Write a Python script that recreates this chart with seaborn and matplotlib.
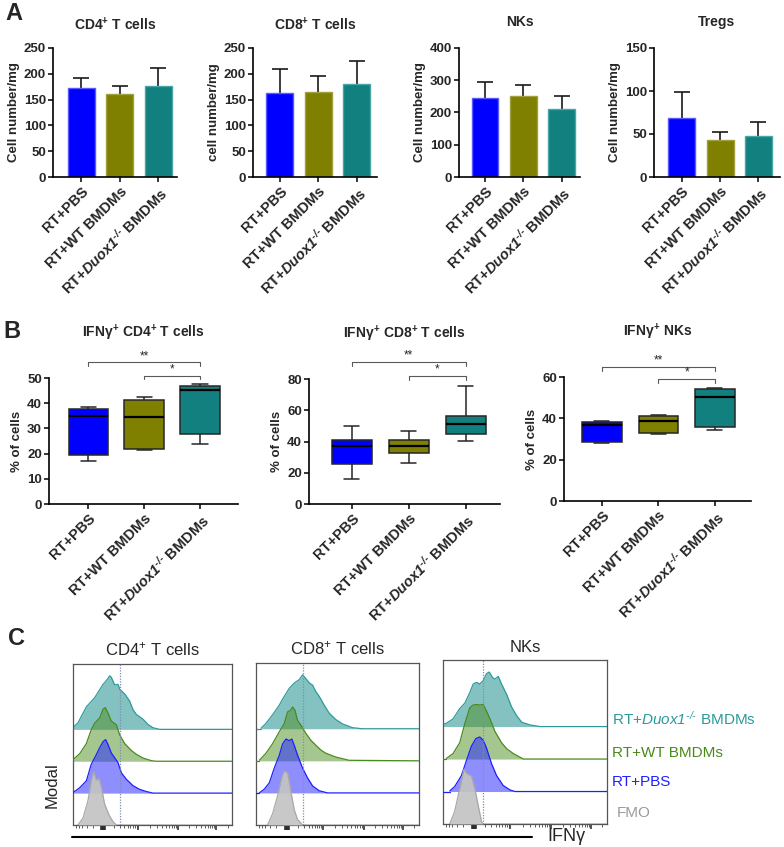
import numpy as np
import pandas as pd
import matplotlib
matplotlib.use("Agg")
import matplotlib.pyplot as plt
from matplotlib.lines import Line2D
import seaborn as sns

# ---------------- data ----------------
groups = ["RT+PBS", "RT+WT BMDMs", "RT+Duox1-/- BMDMs"]
group_colors = ["#0000FF", "#7F7F00", "#138080"]
bar_edges = ["#5a5aff", "#a0a040", "#4aa6a6"]

# Panel A: mean and SD (cells / mg)
cd4_mean = [172, 160, 176]
cd4_sd = [19, 16, 36]
cd8_mean = [163, 165, 181]
cd8_sd = [47, 31, 43]
nk_mean = [244, 251, 210]
nk_sd = [51, 35, 41]
treg_mean = [69, 43, 47.7]
treg_sd = [29.5, 9.7, 16.3]
a_titles = [r"CD4$^{\mathbf{+}}$ T cells", r"CD8$^{\mathbf{+}}$ T cells", "NKs", "Tregs"]
a_ylabels = ["Cell number/mg", "cell number/mg", "Cell number/mg", "Cell number/mg"]
a_yticks = [[0, 50, 100, 150, 200, 250], [0, 50, 100, 150, 200, 250],
            [0, 100, 200, 300, 400], [0, 50, 100, 150]]

# Panel B: five-number summaries (min, Q1, median, Q3, max), % of cells
ifn_cd4 = [[16.9, 19.6, 34.9, 37.8, 38.6], [21.3, 21.7, 34.4, 41.4, 42.3], [23.9, 27.6, 45.2, 46.9, 47.6]]
ifn_cd8 = [[16.3, 25.7, 37.2, 41.0, 49.9], [26.3, 32.5, 37.2, 41.2, 46.7], [40.1, 45.0, 51.0, 56.3, 75.8]]
ifn_nk = [[28.1, 28.5, 36.6, 38.4, 38.7], [32.2, 33.1, 38.5, 41.3, 41.6], [34.5, 36.0, 50.2, 54.0, 54.8]]
b_titles = [r"IFNγ$^{\mathbf{+}}$ CD4$^{\mathbf{+}}$ T cells", r"IFNγ$^{\mathbf{+}}$ CD8$^{\mathbf{+}}$ T cells",
            r"IFNγ$^{\mathbf{+}}$ NKs"]
b_yticks = [[0, 10, 20, 30, 40, 50], [0, 20, 40, 60, 80], [0, 20, 40, 60]]
# significance brackets: (group a, group b, level, label)
b_sig = [[(0, 2, 56.2, "**"), (1, 2, 50.9, "*")],
         [(0, 2, 90.7, "**"), (1, 2, 81.7, "*")],
         [(0, 2, 64.8, "**"), (1, 2, 58.9, "*")]]

# Panel C: modal histograms, x = % of IFNγ axis, h = % of mode
c1_duox_x = [0, 3.1, 8.4, 13.6, 18.9, 21.0, 23.1, 24.1, 26.2, 28.3, 29.4, 32.5, 35.6, 37.7, 39.8, 44.0, 47.2, 50.3, 54.5]
c1_duox_h = [4, 12, 42, 59, 84, 91, 100, 97, 83, 84, 75, 66, 53, 37, 28, 19, 9, 3, 0]
c1_wt_x = [0, 4.2, 8.4, 11.5, 13.6, 16.8, 18.9, 20.3, 22.0, 24.1, 27.3, 29.4, 32.5, 36.7, 39.8, 44.0, 49.3, 52.4]
c1_wt_h = [3, 14, 33, 59, 71, 81, 97, 100, 90, 75, 68, 49, 33, 20, 13, 6, 1, 0]
c1_pbs_x = [0, 4.2, 8.4, 11.5, 14.7, 16.8, 18.9, 20.5, 22.0, 24.1, 26.2, 28.3, 30.4, 33.5, 37.7, 41.9, 46.1, 50.3]
c1_pbs_h = [1, 10, 23, 54, 72, 85, 96, 100, 91, 75, 66, 57, 38, 26, 14, 7, 3, 0]
c1_fmo_x = [3.1, 6.3, 9.4, 11.5, 13.0, 14.7, 16.4, 17.8, 19.9, 22.6, 25.2, 27.3]
c1_fmo_h = [0, 13, 45, 84, 100, 84, 87, 71, 39, 19, 6, 0]

c2_duox_x = [3.1, 6.1, 10.2, 14.3, 17.3, 20.4, 23.5, 26.5, 28.6, 30.6, 32.7, 34.7, 36.7, 38.8, 41.8, 44.9, 49.0, 53.1, 59.2, 65.3]
c2_duox_h = [1, 10, 26, 44, 60, 75, 85, 91, 100, 93, 85, 81, 69, 60, 44, 29, 17, 9, 2, 0]
c2_wt_x = [2.0, 6.1, 10.2, 14.3, 17.3, 19.4, 21.4, 22.4, 23.9, 25.5, 27.6, 30.6, 33.7, 36.7, 39.8, 42.9, 49.0, 57.1]
c2_wt_h = [1, 14, 32, 54, 69, 91, 94, 100, 94, 75, 66, 51, 38, 29, 20, 14, 7, 1]
c2_pbs_x = [2.0, 5.1, 8.2, 11.2, 14.3, 16.3, 18.4, 20.4, 22.0, 23.5, 25.5, 28.6, 31.6, 34.7, 38.8, 43.9]
c2_pbs_h = [0, 7, 19, 46, 70, 91, 100, 97, 100, 88, 70, 46, 28, 13, 4, 0]
c2_fmo_x = [7.1, 10.2, 13.3, 15.9, 17.3, 19.4, 21.4, 23.5, 25.5, 28.6]
c2_fmo_h = [0, 21, 55, 90, 100, 97, 62, 28, 10, 0]

c3_duox_x = [0, 2.0, 6.1, 10.2, 13.3, 16.3, 18.4, 20.4, 22.4, 24.5, 26.5, 28.2, 30.2, 31.6, 33.7, 35.7, 38.8, 41.8, 44.9, 48.0, 53.1, 59.2]
c3_duox_h = [4, 6, 14, 33, 43, 62, 78, 81, 78, 84, 97, 100, 90, 87, 92, 78, 59, 36, 20, 8, 3, 0]
c3_wt_x = [2.0, 6.1, 10.2, 13.3, 16.3, 18.4, 20.4, 22.4, 24.5, 26.5, 28.6, 31.6, 35.7, 38.8, 42.9, 49.0]
c3_wt_h = [1, 10, 30, 65, 94, 99, 100, 99, 100, 88, 74, 51, 30, 19, 10, 0]
c3_pbs_x = [4.1, 7.1, 11.2, 14.3, 17.3, 20.0, 22.4, 24.5, 26.5, 29.6, 32.7, 36.7, 40.8, 43.9]
c3_pbs_h = [1, 9, 29, 57, 83, 97, 100, 94, 80, 51, 29, 11, 3, 0]
c3_fmo_x = [4.1, 7.1, 10.2, 12.7, 14.7, 17.3, 19.4, 21.4, 23.5, 24.5]
c3_fmo_h = [0, 23, 65, 100, 92, 88, 65, 35, 4, 0]

c_titles = [r"CD4$^{\mathsf{+}}$ T cells", r"CD8$^{\mathsf{+}}$ T cells", "NKs"]
c_gate = [29.4, 29.0, 24.1]
c_legend = ["RT+$\\mathcal{Duox1}^{\\mathcal{\u2010/\u2010}}$ BMDMs", "RT+WT BMDMs", "RT+PBS", "FMO"]

# ---------------- style ----------------
sns.set_theme(style="ticks")
plt.rcParams["font.family"] = ["Liberation Sans", "DejaVu Sans"]
plt.rcParams["mathtext.fontset"] = "custom"
plt.rcParams["mathtext.rm"] = "Liberation Sans:bold"
plt.rcParams["mathtext.bf"] = "Liberation Sans:bold"
plt.rcParams["mathtext.it"] = "Liberation Sans:italic:bold"
plt.rcParams["mathtext.cal"] = "Liberation Sans:italic"
plt.rcParams["mathtext.sf"] = "Liberation Sans"
try:
    plt.rcParams["mathtext.bfit"] = "Liberation Sans:italic:bold"
    DUOX = "RT+$\\mathbfit{Duox1}^{\\mathbfit{\u2010/\u2010}}$ BMDMs"
except KeyError:
    DUOX = "RT+$\\mathit{Duox1}^{\\mathit{\u2010/\u2010}}$ BMDMs"
xtick_labels = [groups[0], groups[1], DUOX]

W, H = 784, 847
fig = plt.figure(figsize=(W / 100, H / 100), dpi=100)


def rect(l, t, r, b):
    return [l / W, 1 - b / H, (r - l) / W, (b - t) / H]


def style_axis(ax, yticks, ylabel):
    sns.despine(ax=ax)
    for s in ("left", "bottom"):
        ax.spines[s].set_linewidth(1.2)
        ax.spines[s].set_color("black")
    ax.set_yticks(yticks)
    ax.set_ylim(yticks[0], yticks[-1])
    ax.set_xticks([0, 1, 2])
    ax.set_xticklabels(xtick_labels, rotation=45, ha="right", rotation_mode="anchor",
                       fontsize=10.5, fontweight="bold")
    ax.tick_params(axis="both", direction="out", length=3.6, width=1.1, color="black", pad=1.5)
    for lab in ax.get_yticklabels():
        lab.set_fontweight("bold")
        lab.set_fontsize(9.5)
    ax.set_xlabel("")
    ax.set_ylabel(ylabel, fontsize=9.5, fontweight="bold", labelpad=3)


# ---------------- panel A ----------------
a_rects = [(53, 48, 177, 177), (253, 48, 377, 177), (459, 48, 580, 177), (654, 48, 780, 177)]
a_xlims = [(-0.73, 2.49), (-0.70, 2.52), (-0.68, 2.48), (-0.72, 2.56)]
a_pads = [13, 13, 16, 16]
a_means = [cd4_mean, cd8_mean, nk_mean, treg_mean]
a_sds = [cd4_sd, cd8_sd, nk_sd, treg_sd]
for i in range(4):
    ax = fig.add_axes(rect(*a_rects[i]))
    df = pd.DataFrame({"group": groups, "value": a_means[i]})
    sns.barplot(data=df, x="group", y="value", hue="group", order=groups, hue_order=groups,
                palette=group_colors, saturation=1, width=0.7, errorbar=None, legend=False, ax=ax,
                linewidth=1.0, zorder=2)
    for p, ec in zip(ax.patches, bar_edges):
        p.set_edgecolor(ec)
    eb = ax.errorbar([0, 1, 2], a_means[i], yerr=[np.zeros(3), a_sds[i]], fmt="none",
                     ecolor="#1a1a1a", elinewidth=1.2, capsize=6, capthick=1.2, zorder=1)
    eb.lines[1][0].set_visible(False)
    style_axis(ax, a_yticks[i], a_ylabels[i])
    ax.set_xlim(*a_xlims[i])
    ax.set_title(a_titles[i], fontsize=10, fontweight="bold", pad=a_pads[i])

# ---------------- panel B ----------------
b_rects = [(49, 378, 238, 504), (309, 379, 500, 504), (564, 377, 751, 501)]
b_xlims = [(-0.7, 2.68), (-0.75, 2.6), (-0.67, 2.64)]
b_data = [ifn_cd4, ifn_cd8, ifn_nk]
for i in range(3):
    ax = fig.add_axes(rect(*b_rects[i]))
    long = pd.DataFrame({"group": np.repeat(groups, 5),
                         "value": np.concatenate([np.asarray(v) for v in b_data[i]])})
    sns.boxplot(data=long, x="group", y="value", hue="group", order=groups, hue_order=groups,
                palette=group_colors, width=0.7, whis=(0, 100), linewidth=1.1, linecolor="#262626",
                fliersize=0, legend=False, ax=ax, capwidths=0.27, saturation=1,
                medianprops=dict(color="black", linewidth=1.6))
    style_axis(ax, b_yticks[i], "% of cells")
    ax.set_xlim(*b_xlims[i])
    ax.set_title(b_titles[i], fontsize=10, fontweight="bold", pad=29)
    ymax = b_yticks[i][-1]
    drop = ymax * 3.5 / (b_rects[i][3] - b_rects[i][1])
    for (g0, g1, lev, lab) in b_sig[i]:
        ax.plot([g0, g0, g1, g1], [lev - drop, lev, lev, lev - drop], color="#5a5a5a", lw=0.8,
                clip_on=False)
        ax.annotate(lab, xy=((g0 + g1) / 2, lev), xytext=(0, 0.3), textcoords="offset points",
                    ha="center", va="bottom", fontsize=8.5, annotation_clip=False)

# ---------------- panel C ----------------
c_rects = [(73, 664, 232, 825), (256, 663, 419, 825), (443, 660, 607, 824)]
c_curves = [
    [(c1_duox_x, c1_duox_h), (c1_wt_x, c1_wt_h), (c1_pbs_x, c1_pbs_h), (c1_fmo_x, c1_fmo_h)],
    [(c2_duox_x, c2_duox_h), (c2_wt_x, c2_wt_h), (c2_pbs_x, c2_pbs_h), (c2_fmo_x, c2_fmo_h)],
    [(c3_duox_x, c3_duox_h), (c3_wt_x, c3_wt_h), (c3_pbs_x, c3_pbs_h), (c3_fmo_x, c3_fmo_h)],
]
lane_style = [  # offset, fill, line, alpha
    (3, "#2b9494", "#2f9a9a", 0.58),
    (2, "#4e8f22", "#4a8a1c", 0.50),
    (1, "#2626ff", "#1f1fff", 0.52),
    (0, "#c4c4c4", "#a8a8a8", 0.92),
]
PEAK = 1.68
major = [19, 41, 66, 90]
minor = []
for a, b in zip([19, 41, 66, 90], [41, 66, 90, 114]):
    minor += [a + (b - a) * np.log10(k) for k in range(2, 10)]
minor += [19 - 22 * np.log10(k) for k in range(2, 10)]
minor = [m for m in minor if 0.5 < m < 99.5]
for i in range(3):
    ax = fig.add_axes(rect(*c_rects[i]))
    for j, ((xs, hs), (off, fc, lc, al)) in enumerate(zip(c_curves[i], lane_style)):
        x = np.r_[xs, 100.0]
        y = off + np.r_[hs, 0.0] / 100.0 * PEAK
        z = 2 + j
        ax.fill_between(x, off, y, color=fc, alpha=al, lw=0, zorder=z)
        ax.plot(x, y, color=lc, lw=0.9, zorder=z + 0.5)
        ax.plot([0, x[0]], [off, off], color=lc, lw=0.9, zorder=z + 0.5)
    ax.axvline(c_gate[i], color="#7d8db0", lw=0.9, ls=(0, (1, 1.2)), zorder=20)
    ax.set_xlim(0, 100)
    ax.set_ylim(0, 5.05)
    for s in ax.spines.values():
        s.set_visible(True)
        s.set_color("#555555")
        s.set_linewidth(0.9)
    ax.set_yticks([])
    ax.set_xticks(major + [17.6, 18.3, 19.7, 20.4])
    ax.set_xticks(minor, minor=True)
    ax.set_xticklabels([])
    ax.tick_params(axis="x", which="major", direction="out", length=3.5, width=1.1, color="#222")
    ax.tick_params(axis="x", which="minor", direction="out", length=2, width=0.6, color="#444")
    ax.set_title(c_titles[i], fontsize=12, pad=6)

lane_text_y = [719, 753, 782, 813]
lane_text_col = ["#2a9a9a", "#4a8a1a", "#2020ff", "#9a9a9a"]
lane_text_x = [612, 612, 612, 617]
for t, yy, col, xx in zip(c_legend, lane_text_y, lane_text_col, lane_text_x):
    fig.text(xx / W, 1 - yy / H, t, color=col, fontsize=11, va="center", ha="left")

fig.text(52 / W, 1 - 785 / H, "Modal", rotation=90, fontsize=12, va="center", ha="center")
fig.add_artist(Line2D([72 / W, 532 / W], [1 - 837 / H, 1 - 837 / H], color="black", lw=1.5))
fig.text(547 / W, 1 - 836 / H, "IFNγ", fontsize=13, va="center", ha="left")

# panel letters
fig.text(5 / W, 1 - 13 / H, "A", fontsize=17, fontweight="bold", va="center", ha="left")
fig.text(3 / W, 1 - 332 / H, "B", fontsize=17, fontweight="bold", va="center", ha="left")
fig.text(8 / W, 1 - 638 / H, "C", fontsize=17, fontweight="bold", va="center", ha="left")

fig.savefig("out.png", dpi=100)
